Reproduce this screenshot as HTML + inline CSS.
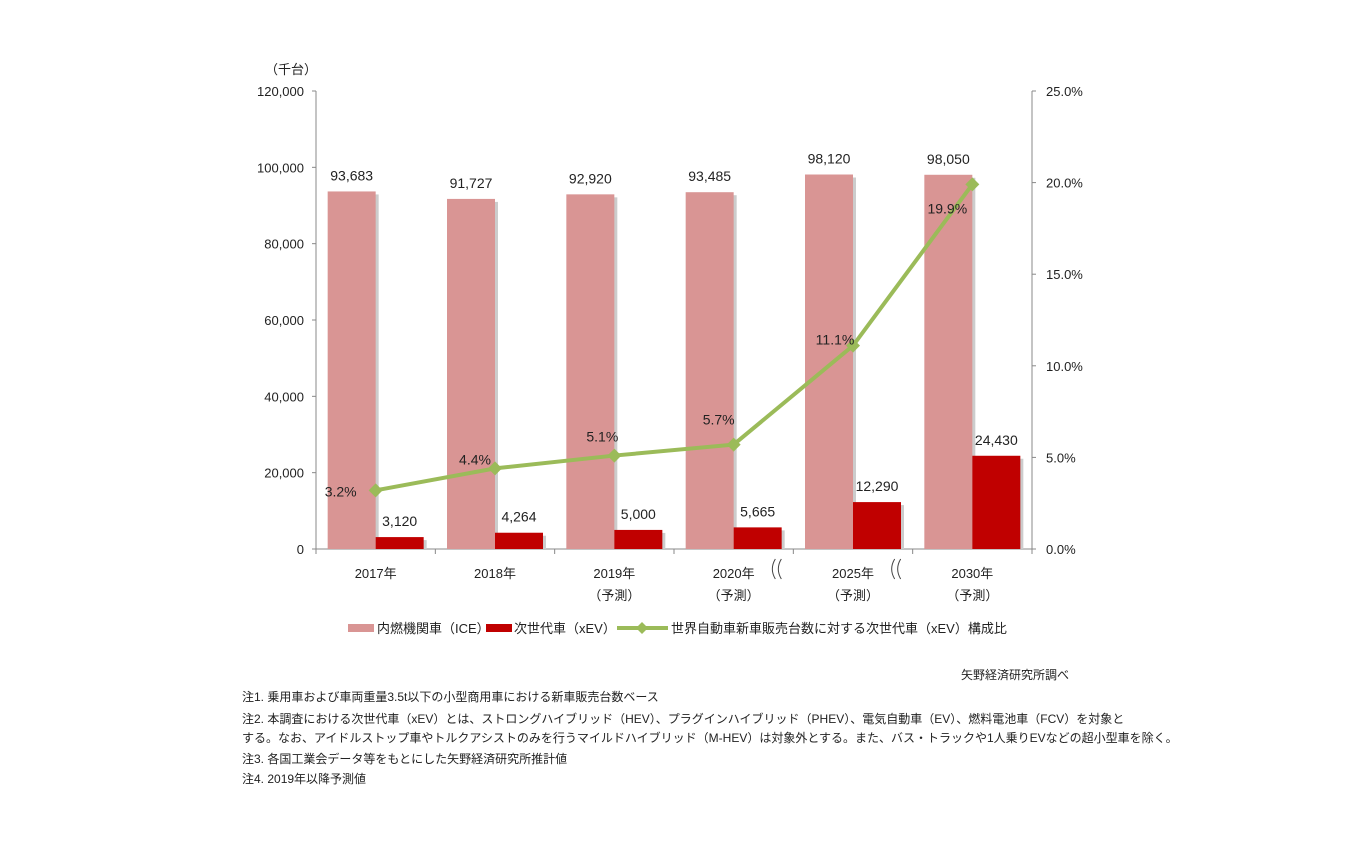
<!DOCTYPE html>
<html><head><meta charset="utf-8">
<style>
body{margin:0;background:#fff;width:1350px;height:844px;overflow:hidden;font-family:"Liberation Sans","Noto Sans CJK JP",sans-serif;color:#222}
svg text{font-family:"Liberation Sans","Noto Sans CJK JP",sans-serif;fill:#222}
.note{position:absolute;left:242px;font-size:12px;white-space:nowrap}
</style></head><body>
<svg id="chart" width="1350" height="680" style="position:absolute;left:0;top:0"></svg>
<div class="note" style="left:961px;top:666px">矢野経済研究所調べ</div>
<div class="note" style="top:688px">注1. 乗用車および車両重量3.5t以下の小型商用車における新車販売台数ベース</div>
<div class="note" style="top:710px;line-height:19px">注2. 本調査における次世代車（xEV）とは、ストロングハイブリッド（HEV）、プラグインハイブリッド（PHEV）、電気自動車（EV）、燃料電池車（FCV）を対象と<br>する。なお、アイドルストップ車やトルクアシストのみを行うマイルドハイブリッド（M-HEV）は対象外とする。また、バス・トラックや1人乗りEVなどの超小型車を除く。</div>
<div class="note" style="top:750px">注3. 各国工業会データ等をもとにした矢野経済研究所推計値</div>
<div class="note" style="top:770px">注4. 2019年以降予測値</div>
<script>
const categories=["2017年","2018年","2019年","2020年","2025年","2030年"];
const forecast=[false,false,true,true,true,true];
const iceValues=[93683,91727,92920,93485,98120,98050];
const xevValues=[3120,4264,5000,5665,12290,24430];
const shareValues=[3.2,4.4,5.1,5.7,11.1,19.9];
const leftTicks=[0,20000,40000,60000,80000,100000,120000];
const rightTicks=[0,5,10,15,20,25];
const NS="http://www.w3.org/2000/svg";
const svg=document.getElementById('chart');
const X0=316,X1=1032,Y0=549,Y1=91;
const gw=(X1-X0)/categories.length;
const yL=v=>Y0-(v/120000)*(Y0-Y1);
const yR=v=>Y0-(v/25)*(Y0-Y1);
const gx=i=>X0+gw*(i+0.5);
function mk(tag,attrs,txt){const e=document.createElementNS(NS,tag);for(const k in attrs)e.setAttribute(k,attrs[k]);if(txt!==undefined)e.textContent=txt;svg.appendChild(e);return e;}
const fmt=v=>v.toLocaleString('en-US');
// axes
let a=mk('line',{x1:X0,y1:Y1,x2:X0,y2:Y0,stroke:'#888'});


a=mk('line',{x1:X1,y1:Y1,x2:X1,y2:Y0,stroke:'#888'});


a=mk('line',{x1:X0-4,y1:Y0,x2:X1+4,y2:Y0,stroke:'#888'});


leftTicks.forEach(v=>{const y=yL(v);mk('line',{x1:X0-4,y1:y,x2:X0,y2:y,stroke:'#888'});
const t=mk('text',{x:X0-12,y:y+5,'text-anchor':'end','font-size':13},fmt(v));

});
rightTicks.forEach(v=>{const y=yR(v);mk('line',{x1:X1,y1:y,x2:X1+4,y2:y,stroke:'#888'});
const t=mk('text',{x:X1+14,y:y+5,'font-size':13},v.toFixed(1)+'%');

});
const u=mk('text',{x:265,y:74,'font-size':13},'（千台）');


for(let i=0;i<=categories.length;i++){const x=X0+gw*i;mk('line',{x1:x,y1:Y0,x2:x,y2:Y0+5,stroke:'#888'});}
// bars
const bw=48;
categories.forEach((c,i)=>{
 const cx=gx(i);
 const yi=yL(iceValues[i]);
 mk('rect',{x:cx-bw+3,y:yi+3,width:bw,height:Y0-yi-3,fill:'#ccc'});
 const b=mk('rect',{x:cx-bw,y:yi,width:bw,height:Y0-yi,fill:'#d99594'});
 
 
 const yx=yL(xevValues[i]);
 mk('rect',{x:cx+3,y:yx+3,width:bw,height:Y0-yx-3,fill:'#ccc'});
 const b2=mk('rect',{x:cx,y:yx,width:bw,height:Y0-yx,fill:'#c00000'});
 
 
 let t=mk('text',{x:cx-bw/2,y:yi-11,'text-anchor':'middle','font-size':14},fmt(iceValues[i]));
 
 
 t=mk('text',{x:cx+bw/2,y:yx-11,'text-anchor':'middle','font-size':14},fmt(xevValues[i]));
 
 
 t=mk('text',{x:cx,y:578,'text-anchor':'middle','font-size':13},c);
 
 
 if(forecast[i]){t=mk('text',{x:cx,y:600,'text-anchor':'middle','font-size':13},'（予測）');
 
 }
});
// break marks
[X0+gw*4,X0+gw*5].forEach(x=>{mk('path',{d:`M${x-18},${Y0+10} q-6,10 0,20 M${x-12},${Y0+10} q-6,10 0,20`,fill:'none',stroke:'#444'});});
// line
const pts=shareValues.map((v,i)=>[gx(i),yR(v)]);
const ln=mk('polyline',{points:pts.map(p=>p.join(',')).join(' '),fill:'none',stroke:'#9bbb59','stroke-width':4});


const dx=[-35,-20,-12,-15,-18,-25],dy=[6,-4,-14,-20,-1,29];
pts.forEach((p,i)=>{
 const m=mk('path',{d:`M${p[0]},${p[1]-7}L${p[0]+7},${p[1]}L${p[0]},${p[1]+7}L${p[0]-7},${p[1]}Z`,fill:'#9bbb59'});
 
 
 const t=mk('text',{x:p[0]+dx[i],y:p[1]+dy[i],'text-anchor':'middle','font-size':14},shareValues[i].toFixed(1)+'%');
 
 
});
// legend
let r=mk('rect',{x:348,y:624,width:26,height:8,fill:'#d99594'});


let t=mk('text',{x:377,y:633,'font-size':13},'内燃機関車（ICE）');


r=mk('rect',{x:486,y:624,width:26,height:8,fill:'#c00000'});


t=mk('text',{x:514,y:633,'font-size':13},'次世代車（xEV）');


mk('line',{x1:617,y1:628,x2:668,y2:628,stroke:'#9bbb59','stroke-width':4});
mk('path',{d:'M642,622L648,628L642,634L636,628Z',fill:'#9bbb59'});
t=mk('text',{x:671,y:633,'font-size':13},'世界自動車新車販売台数に対する次世代車（xEV）構成比');


</script>
</body></html>
